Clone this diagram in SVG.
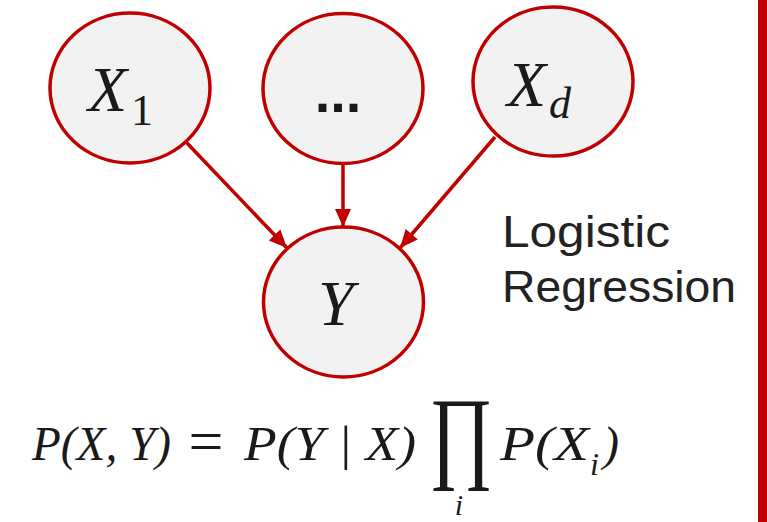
<svg xmlns="http://www.w3.org/2000/svg" width="767" height="522" viewBox="0 0 767 522">
<defs>
<style>
.node{fill:#f2f2f2;stroke:#c00000;stroke-width:3.5}
.edge{stroke:#c00000;stroke-width:3.5;fill:none}
.math{font-family:"Liberation Serif","DejaVu Serif",serif;font-style:italic;fill:#1a1a1a}
.up{font-family:"Liberation Serif","DejaVu Serif",serif;fill:#1a1a1a}
.lbl{font-family:"Liberation Sans","Open Sans",sans-serif;fill:#222;font-size:45px}
</style>
<marker id="ah" markerUnits="userSpaceOnUse" markerWidth="22" markerHeight="22" viewBox="0 0 22 22" refX="20" refY="11" orient="auto">
<path d="M2,3 L20,11 L2,19 z" fill="#c00000"/>
</marker>
</defs>
<rect x="758" y="0" width="9" height="522" fill="#c00000"/>
<g id="edges">
<line class="edge" x1="186" y1="142" x2="287" y2="248" marker-end="url(#ah)"/>
<line class="edge" x1="343" y1="164" x2="343" y2="227" marker-end="url(#ah)"/>
<line class="edge" x1="495" y1="137" x2="400" y2="248" marker-end="url(#ah)"/>
</g>
<g id="x1">
<ellipse class="node" cx="130" cy="88" rx="80" ry="75"/>
<text class="math" x="88" y="111" font-size="64">X</text>
<text class="up" x="131" y="125" font-size="44">1</text>
</g>
<g id="dots">
<ellipse class="node" cx="343" cy="88.5" rx="80" ry="75"/>
<text x="338" y="112" font-family="Liberation Sans, sans-serif" font-weight="bold" font-size="56" text-anchor="middle" fill="#1a1a1a">...</text>
</g>
<g id="xd">
<ellipse class="node" cx="553" cy="81.5" rx="80" ry="74.5"/>
<text class="math" x="507" y="106" font-size="64">X</text>
<text class="math" x="549" y="118" font-size="44">d</text>
</g>
<g id="y">
<ellipse class="node" cx="343.5" cy="302" rx="80" ry="75"/>
<text class="math" x="318" y="325" font-size="64">Y</text>
</g>
<g id="label">
<text class="lbl" x="502" y="247" textLength="168" lengthAdjust="spacingAndGlyphs">Logistic</text>
<text class="lbl" x="502" y="302" textLength="234" lengthAdjust="spacingAndGlyphs">Regression</text>
</g>
<g id="formula">
<text class="math" x="32" y="460" font-size="48" textLength="139" lengthAdjust="spacingAndGlyphs">P(X, Y)</text>
<text class="up" x="206" y="462" font-size="62" text-anchor="middle">=</text>
<text class="math" x="244" y="460" font-size="48" textLength="172" lengthAdjust="spacingAndGlyphs">P(Y | X)</text>
<text class="up" x="429" y="469" font-size="103" textLength="64" lengthAdjust="spacingAndGlyphs">∏</text>
<text class="math" x="459" y="515" font-size="30" text-anchor="middle">i</text>
<text class="math" x="500" y="460" font-size="48" textLength="89" lengthAdjust="spacingAndGlyphs">P(X</text>
<text class="math" x="590" y="475" font-size="32">i</text>
<text class="math" x="603" y="460" font-size="48">)</text>
</g>
</svg>
